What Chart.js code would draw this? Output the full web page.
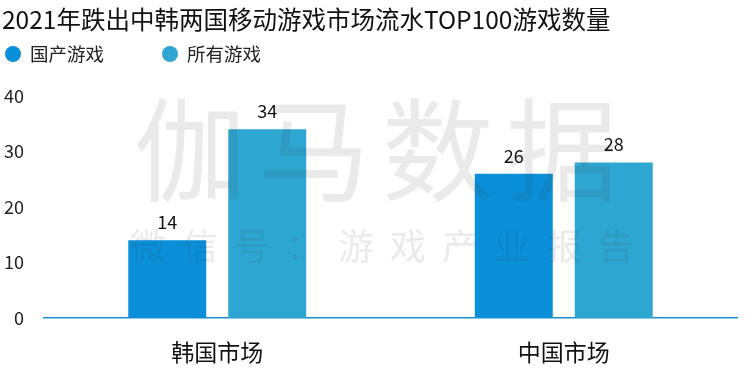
<!DOCTYPE html>
<html><head><meta charset="utf-8">
<script src="https://cdn.jsdelivr.net/npm/chart.js@4"></script>
<style>html,body{margin:0;padding:0;background:#fff}#wrap{width:750px;height:374px}</style>
</head><body><div id="wrap"><canvas id="c" width="750" height="374"></canvas></div>
<script>
const titleText = '2021年跌出中韩两国移动游戏市场流水TOP100游戏数量';
const categories = ['韩国市场', '中国市场'];
const seriesNames = ['国产游戏', '所有游戏'];
const domesticGames = [14, 26];
const allGames = [34, 28];
const yTicks = [0, 10, 20, 30, 40];
const colors = ['#0a8fd8', '#2ea6d2'];
const font = "'Noto Sans CJK SC', 'Noto Sans', sans-serif";

const decorPlugin = {
  id: 'decor',
  afterDraw(chart) {
    const ctx = chart.ctx;
    ctx.save();
    ctx.fillStyle = '#111';
    ctx.textAlign = 'left';
    ctx.textBaseline = 'middle';
    ctx.font = '24.5px ' + font;
    ctx.fillText(titleText, 2, 20);
    const legendX = [13, 170];
    ctx.font = '18.5px ' + font;
    seriesNames.forEach((name, i) => {
      ctx.fillStyle = colors[i];
      ctx.beginPath();
      ctx.arc(legendX[i], 54, 8, 0, Math.PI * 2);
      ctx.fill();
      ctx.fillStyle = '#222';
      ctx.fillText(name, legendX[i] + 17, 54);
    });
    ctx.restore();
  },
  afterDatasetsDraw(chart) {
    const ctx = chart.ctx;
    ctx.save();
    ctx.fillStyle = 'rgba(60,60,60,0.11)';
    ctx.textAlign = 'center';
    ctx.textBaseline = 'middle';
    ctx.font = '112px ' + font;
    '伽马数据'.split('').forEach((ch, i) => ctx.fillText(ch, 190 + i * 124, 150));
    ctx.font = '36px ' + font;
    '微信号：游戏产业报告'.split('').forEach((ch, i) => ctx.fillText(ch, 148 + i * 52, 246));
    ctx.fillStyle = '#111';
    ctx.font = '18px ' + font;
    ctx.textBaseline = 'bottom';
    chart.data.datasets.forEach((ds, di) => {
      chart.getDatasetMeta(di).data.forEach((bar, i) => {
        ctx.fillText(String(ds.data[i]), bar.x, bar.y - 9);
      });
    });
    ctx.restore();
  }
};

new Chart(document.getElementById('c'), {
  type: 'bar',
  data: {
    labels: categories,
    datasets: [
      { label: seriesNames[0], data: domesticGames, backgroundColor: colors[0] },
      { label: seriesNames[1], data: allGames, backgroundColor: colors[1] }
    ]
  },
  options: {
    responsive: false,
    animation: false,
    devicePixelRatio: 1,
    layout: { padding: { left: 0, right: 13, top: 96, bottom: 0 } },
    datasets: { bar: { categoryPercentage: 0.577, barPercentage: 0.78 } },
    plugins: {
      title: { display: false },
      legend: { display: false },
      tooltip: { enabled: false }
    },
    scales: {
      x: {
        grid: { display: false, drawTicks: false },
        border: { display: true, color: '#1a8fcf', width: 1.5 },
        ticks: { color: '#111', font: { family: font, size: 23 }, padding: 20 },
        afterFit(axis) { axis.height = 56; }
      },
      y: {
        min: 0, max: 40,
        afterBuildTicks(axis) { axis.ticks = yTicks.map(v => ({ value: v })); },
        grid: { display: false, drawTicks: false },
        border: { display: false },
        ticks: { color: '#222', font: { family: font, size: 18 }, padding: 20 },
        afterFit(axis) { axis.width = 44; }
      }
    }
  },
  plugins: [decorPlugin]
});
</script></body></html>
